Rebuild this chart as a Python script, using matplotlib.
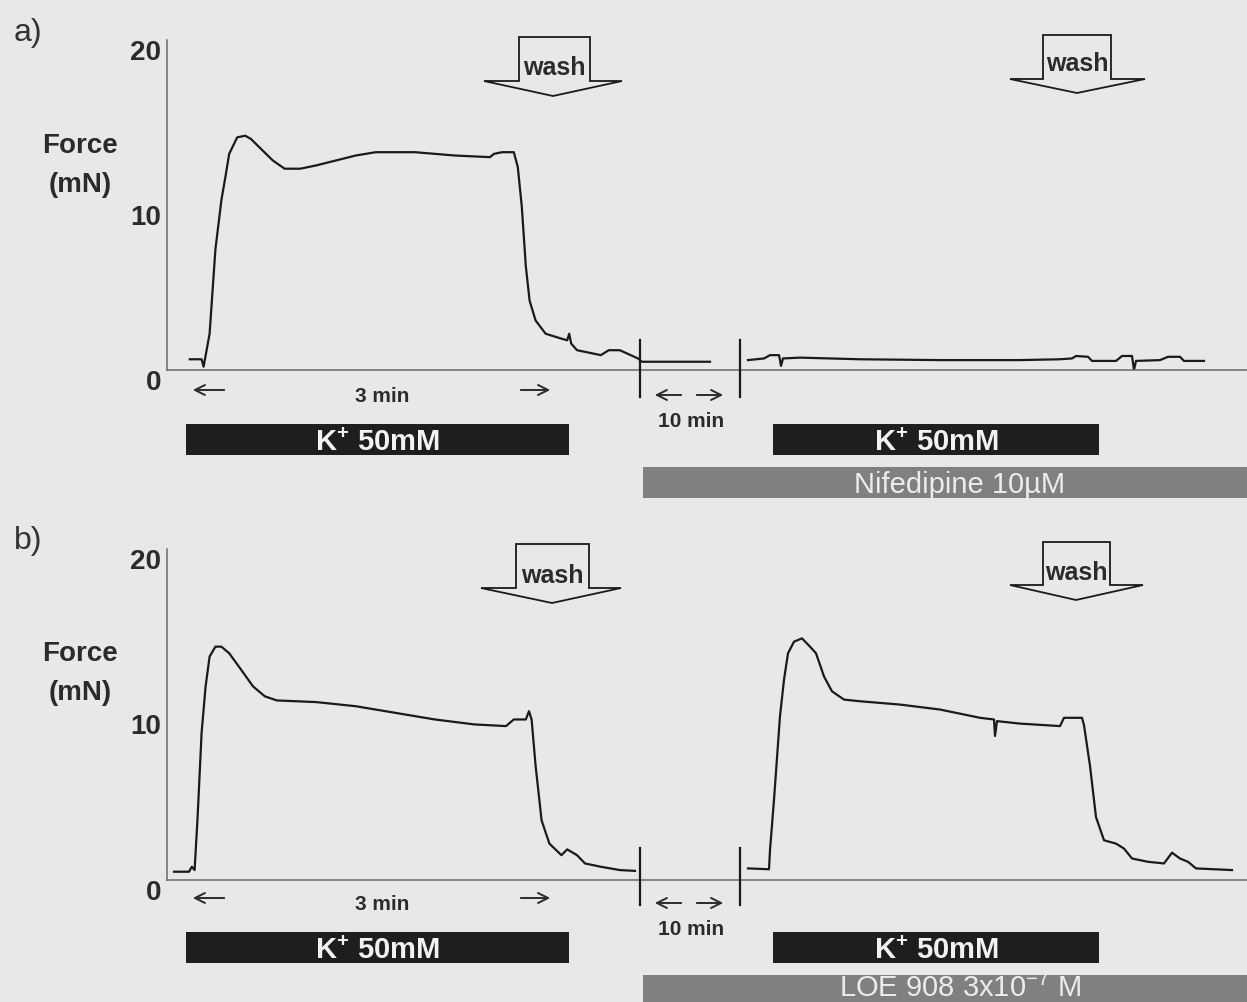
import matplotlib.pyplot as plt
from matplotlib.patches import Polygon, Rectangle

plt.rcParams['font.family'] = ['Liberation Sans', 'DejaVu Sans']

# force traces, time in s along the drawn axis, force in mN
# panel a: control K+ response, then (after 10 min) K+ with nifedipine
a1_t = [11.4, 17.3, 18.3, 21.3, 24.2, 27.2, 29.2, 31.1, 35.1, 39.1, 42, 47, 52.9, 58.8,
        66.7, 74.6, 84.5, 94.4, 104.3, 124, 143.8, 161.5, 163.5, 167.5, 173.4, 175.4,
        177.4, 179.4, 181.3, 184.3, 189.3, 197.2, 200.1, 201.1, 202.1, 205, 213, 216.9,
        220.9, 226.4, 235.5, 237.5, 271.5]
a1_f = [0.65, 0.65, 0.2, 2.2, 7.3, 10.3, 11.7, 13.1, 14.1, 14.2, 14.0, 13.4, 12.7, 12.2,
        12.2, 12.4, 12.7, 13.0, 13.2, 13.2, 13.0, 12.9, 13.1, 13.2, 13.2, 12.3,
        9.9, 6.3, 4.2, 3.0, 2.2, 1.9, 1.8, 2.2, 1.6, 1.2, 1.0, 0.9,
        1.2, 1.2, 0.7, 0.5, 0.5]
a2_t = [290.5, 298.5, 301.5, 306, 306.5, 307, 308, 316.5, 346.5, 386.5, 426.5, 446.5,
        452.5, 454.5, 460.5, 462.5, 474.5, 477.5, 482.5, 483.5, 484.5, 496.5, 500.5,
        506.5, 508.5, 518.5]
a2_f = [0.6, 0.7, 0.9, 0.9, 0.6, 0.25, 0.7, 0.75, 0.65, 0.6, 0.6, 0.65,
        0.7, 0.85, 0.8, 0.55, 0.55, 0.85, 0.85, 0.0, 0.55, 0.6, 0.8,
        0.8, 0.55, 0.55]

# panel b: control K+ response, then K+ with LOE 908
b1_t = [3.5, 11, 12.4, 13.8, 15.3, 17.3, 19.3, 21.3, 24.2, 27.2, 31.1, 37.1, 43, 48.9,
        54.9, 74.6, 94.4, 114.2, 133.9, 153.7, 169.5, 173.4, 179.4, 181, 182.3, 184.3,
        187.3, 191.2, 197.2, 200.1, 205, 209, 216.9, 226.4, 234]
b1_f = [0.5, 0.5, 0.8, 0.6, 3.8, 8.9, 11.7, 13.5, 14.1, 14.1, 13.7, 12.7, 11.7, 11.1,
        10.85, 10.75, 10.5, 10.1, 9.7, 9.4, 9.3, 9.7, 9.7, 10.2, 9.7, 6.9,
        3.6, 2.2, 1.5, 1.85, 1.5, 1.0, 0.8, 0.6, 0.55]
b2_t = [290.5, 301, 301.5, 303.5, 306.5, 308.5, 310.5, 313.5, 317.5, 321.5, 324.5, 328.5,
        332.5, 338.5, 346.5, 366.5, 386.5, 406.5, 413.5, 414, 415, 426.5, 446.5, 448.5,
        457.5, 458.5, 461.5, 464.5, 468.5, 474.5, 478.5, 482.5, 490.5, 498.5, 502.5,
        506.5, 510.5, 514.5, 532.5]
b2_f = [0.7, 0.65, 1.8, 4.85, 9.9, 12.1, 13.7, 14.4, 14.6, 14.1, 13.7, 12.3,
        11.4, 10.9, 10.8, 10.6, 10.3, 9.8, 9.7, 8.7, 9.6, 9.45, 9.3, 9.8,
        9.8, 9.35, 6.9, 3.8, 2.4, 2.2, 1.9, 1.3, 1.1, 1.0, 1.65,
        1.3, 1.1, 0.7, 0.6]

y_ticks = [0, 10, 20]

BG = '#e8e8e8'
W, H = 1247, 1002
fig = plt.figure(figsize=(W / 100, H / 100), dpi=100)
fig.patch.set_facecolor(BG)


def trace_axes(top, bottom):
    ax = fig.add_axes([167 / W, 1 - bottom / H, 1 - 167 / W, (bottom - top) / H])
    ax.set_xlim(0, 540)
    ax.set_ylim(0, 20)
    ax.patch.set_alpha(0)
    for s in ['top', 'right']:
        ax.spines[s].set_visible(False)
    for s in ['left', 'bottom']:
        ax.spines[s].set_color('#6a6a6a')
        ax.spines[s].set_linewidth(1.1)
    ax.set_xticks([])
    ax.set_yticks(y_ticks)
    ax.tick_params(axis='y', length=0, pad=4, labelsize=20, labelcolor='#2b2b2b')
    for lab in ax.get_yticklabels():
        lab.set_fontweight('bold')
        lab.set_verticalalignment('top')
    return ax


ax_a = trace_axes(40, 370)
ax_a.plot(a1_t, a1_f, color='#1a1a1a', lw=1.6)
ax_a.plot(a2_t, a2_f, color='#1a1a1a', lw=1.6)

ax_b = trace_axes(549, 880)
ax_b.plot(b1_t, b1_f, color='#1a1a1a', lw=1.6)
ax_b.plot(b2_t, b2_f, color='#1a1a1a', lw=1.6)

# overlay in pixel coordinates for the labels and protocol bars
ov = fig.add_axes([0, 0, 1, 1])
ov.set_xlim(0, W)
ov.set_ylim(H, 0)
ov.axis('off')
ov.patch.set_alpha(0)

TXT = '#2b2b2b'


def wash(box_l, box_r, top, shaft_b, head_l, head_r, tip_x, tip_y, base):
    pts = [(box_l, top), (box_r, top), (box_r, shaft_b), (head_r, shaft_b),
           (tip_x, tip_y), (head_l, shaft_b), (box_l, shaft_b)]
    ov.add_patch(Polygon(pts, closed=True, facecolor=BG, edgecolor='#1a1a1a', lw=1.3))
    ov.text((box_l + box_r) / 2, base, 'wash', ha='center', va='baseline',
            fontsize=18, fontweight='bold', color=TXT)


def span_arrows(left_tip, left_tail, right_tail, right_tip, y):
    # a left-pointing and a right-pointing arrow on one row
    ov.annotate('', xy=(left_tip, y), xytext=(left_tail, y),
                arrowprops=dict(arrowstyle='->', lw=1.4, color=TXT, mutation_scale=18))
    ov.annotate('', xy=(right_tip, y), xytext=(right_tail, y),
                arrowprops=dict(arrowstyle='->', lw=1.4, color=TXT, mutation_scale=18))


def panel(off, letter, drug, drug_base):
    ov.text(28, 33 + off, letter, ha='center', va='center', fontsize=23, color='#333333')
    ov.text(80, 153 + off, 'Force', ha='center', va='baseline', fontsize=20,
            fontweight='bold', color=TXT)
    ov.text(80, 192 + off, '(mN)', ha='center', va='baseline', fontsize=20,
            fontweight='bold', color=TXT)
    # 3 min and 10 min scale marks
    span_arrows(190, 227, 518, 553, 390 + off)
    ov.text(382, 402 + off, '3 min', ha='center', va='baseline', fontsize=15,
            fontweight='bold', color=TXT)
    for x in [640, 740]:
        ov.plot([x, x], [340 + off, 397 + off], color='#1a1a1a', lw=1.6)
    span_arrows(652, 684, 694, 726, 395 + off)
    ov.text(691, 427 + off, '10 min', ha='center', va='baseline', fontsize=15,
            fontweight='bold', color=TXT)
    # K+ bars
    for x0, x1 in [(186, 569), (773, 1099)]:
        ov.add_patch(Rectangle((x0, 424 + off), x1 - x0, 31, facecolor='#1e1e1e',
                               edgecolor='none'))
        ov.text((x0 + x1) / 2, 451 + off, r'K$^{\mathregular{+}}$ 50mM', ha='center',
                va='baseline', fontsize=21, fontweight='bold', color='#f2f2f2')
    # drug bar
    ov.add_patch(Rectangle((643, 467 + off), W - 643, 31, facecolor='#808080',
                           edgecolor='none'))
    ov.text(960, drug_base, drug, ha='center', va='baseline', fontsize=21,
            color='#ececec')


panel(0, 'a)', 'Nifedipine 10µM', 493)
panel(508, 'b)', r'LOE 908 3x10$^{\mathregular{-7}}$ M', 997)

wash(519, 590, 37, 81, 484, 622, 553, 96, 75)
wash(1043, 1111, 35, 79, 1010, 1145, 1077, 93, 71)
wash(516, 589, 544, 588, 481, 621, 552, 603, 583)
wash(1043, 1110, 542, 585, 1010, 1143, 1076, 600, 580)

fig.savefig('out.png', dpi=100, facecolor=BG)
